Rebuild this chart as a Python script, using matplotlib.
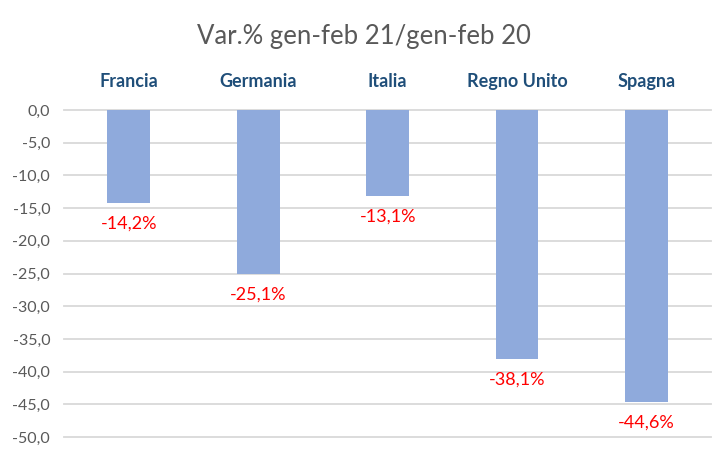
import matplotlib.pyplot as plt
import matplotlib.transforms as mtransforms

# Dati
paesi = ["Francia", "Germania", "Italia", "Regno Unito", "Spagna"]
variazioni = [-14.2, -25.1, -13.1, -38.1, -44.6]
tick_valori = [0, -5, -10, -15, -20, -25, -30, -35, -40, -45, -50]

plt.rcParams['font.family'] = ['Lato', 'DejaVu Sans']

fig = plt.figure(figsize=(7.28, 4.51), dpi=100)
ax = fig.add_axes([0.088, 0.031, 0.889, 0.725])

x = range(len(paesi))
ax.bar(x, variazioni, width=0.33, color="#8FAADC", zorder=2)

ax.set_xlim(-0.5, len(paesi) - 0.5)
ax.set_ylim(-50, 0)
ax.set_yticks(tick_valori)
ax.set_yticklabels([f"{v:.1f}".replace(".", ",") for v in tick_valori],
                   fontsize=11.5, color="#595959")
ax.tick_params(axis="y", length=0, pad=10)
ax.set_xticks([])
ax.grid(axis="y", color="#D9D9D9", linewidth=1.3, zorder=1)
for line in ax.get_ygridlines():
    line.set_clip_on(False)
for s in ax.spines.values():
    s.set_visible(False)

# etichette dei valori sotto le barre
for i, v in enumerate(variazioni):
    ax.annotate(f"{v:.1f}%".replace(".", ","), (i, v), xytext=(0, -9),
                textcoords="offset points", ha="center", va="top",
                fontsize=13, color="#FF0000")

# nomi dei paesi in alto
trans = mtransforms.blended_transform_factory(ax.transData, ax.transAxes)
for i, p in enumerate(paesi):
    ax.text(i, 1.0 + 29 / 327, p, transform=trans, ha="center", va="center",
            fontsize=13, fontweight="bold", color="#1F4E79")

fig.text(0.5, 0.918, "Var.% gen-feb 21/gen-feb 20", ha="center", va="center",
         fontsize=18.5, color="#595959")

fig.savefig("out.png", dpi=100)
